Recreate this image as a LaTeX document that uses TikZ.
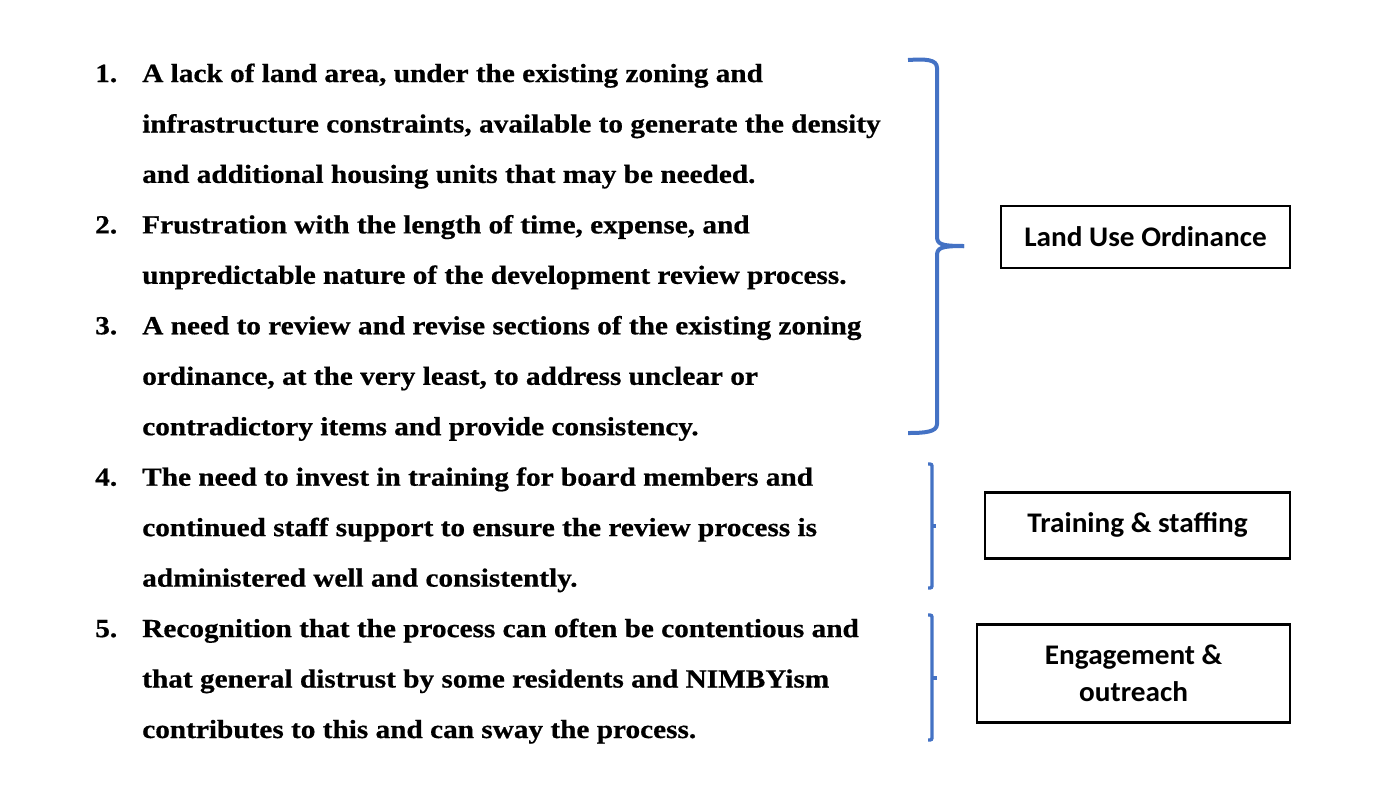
\documentclass[tikz,border=0pt]{standalone}
\usepackage{fontspec}
\setmainfont[FakeStretch=1.12,BoldFeatures={FakeBold=0.6}]{Liberation Serif}
\newfontfamily\boxfont[FakeStretch=1.03]{Carlito}
\definecolor{braceblue}{HTML}{4472C4}
\begin{document}
\begin{tikzpicture}[x=0.75pt,y=-0.75pt,
  itemline/.style={anchor=base west,inner sep=0pt,font=\fontsize{19.6}{23}\selectfont\bfseries},
  labelbox/.style={draw=black,line width=2pt,inner sep=0pt,align=center,font=\boxfont\fontsize{21.3}{28}\selectfont\bfseries},
  bigbrace/.style={draw=braceblue,line width=3pt},
  smallbrace/.style={draw=braceblue,line width=2.5pt,rounded corners=1.5pt}]
\useasboundingbox (0,0) rectangle (1394,786);
% numbers
\node[itemline] (n1) at (95,82) {1.};
\node[itemline] (n2) at (95,233.4) {2.};
\node[itemline] (n3) at (95,334.3) {3.};
\node[itemline] (n4) at (95,485.7) {4.};
\node[itemline] (n5) at (95,637.1) {5.};
% text lines
\node[itemline] (l1) at (142,82) {A lack of land area, under the existing zoning and};
\node[itemline] (l2) at (142,132.5) {infrastructure constraints, available to generate the density};
\node[itemline] (l3) at (142,182.9) {and additional housing units that may be needed.};
\node[itemline] (l4) at (142,233.4) {Frustration with the length of time, expense, and};
\node[itemline] (l5) at (142,283.8) {unpredictable nature of the development review process.};
\node[itemline] (l6) at (142,334.3) {A need to review and revise sections of the existing zoning};
\node[itemline] (l7) at (142,384.8) {ordinance, at the very least, to address unclear or};
\node[itemline] (l8) at (142,435.2) {contradictory items and provide consistency.};
\node[itemline] (l9) at (142,485.7) {The need to invest in training for board members and};
\node[itemline] (l10) at (142,536.1) {continued staff support to ensure the review process is};
\node[itemline] (l11) at (142,586.6) {administered well and consistently.};
\node[itemline] (l12) at (142,637.1) {Recognition that the process can often be contentious and};
\node[itemline] (l13) at (142,687.5) {that general distrust by some residents and NIMBYism};
\node[itemline] (l14) at (142,738) {contributes to this and can sway the process.};
% boxes
\node[labelbox,minimum width=289*0.75pt,minimum height=62*0.75pt] (b1) at (1145.5,237) {Land Use Ordinance};
\node[labelbox,minimum width=305*0.75pt,minimum height=66*0.75pt] (b2) at (1137.5,525.3) {Training \& staffing};
\node[labelbox,minimum width=313*0.75pt,minimum height=98*0.75pt] (b3) at (1133.6,673.3) {Engagement \&\\outreach};
% braces
\draw[bigbrace] (908,60) .. controls (925,59) and (937,59) .. (937,68) -- (937,236) .. controls (937,244) and (940,246) .. (964,246);
\draw[bigbrace] (964,246) .. controls (940,246) and (937,248) .. (937,256) -- (937,424) .. controls (937,432) and (925,433) .. (908,433);
\draw[smallbrace] (928,464) -- (932,464) -- (932,588) -- (928,588);
\draw[smallbrace] (932,526) -- (936,526);
\draw[smallbrace] (928,615) -- (932,615) -- (932,740) -- (928,740);
\draw[smallbrace] (932,678) -- (937,678);
\end{tikzpicture}
\end{document}
